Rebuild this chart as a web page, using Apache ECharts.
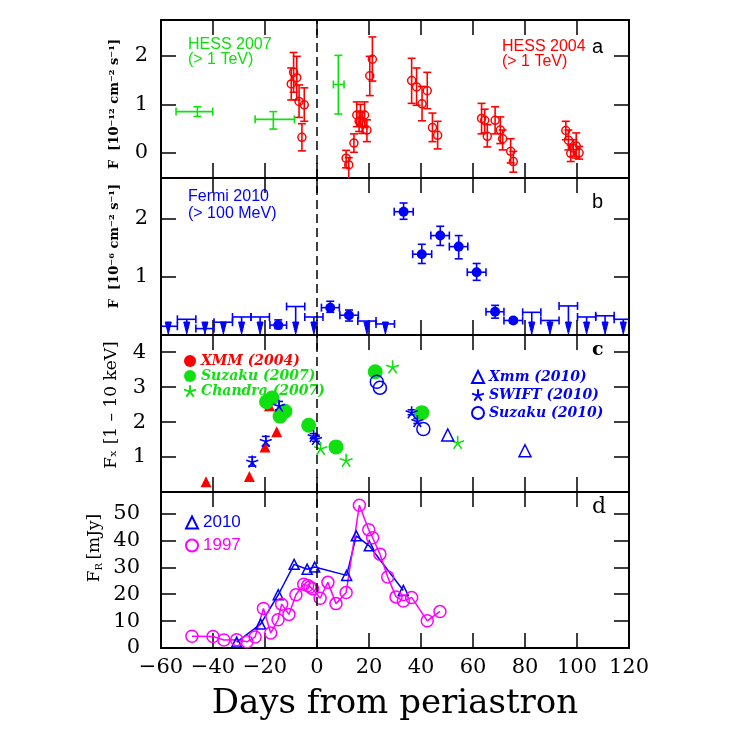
<!DOCTYPE html>
<html><head><meta charset="utf-8">
<script src="https://cdn.jsdelivr.net/npm/echarts@6/dist/echarts.min.js"></script>
<style>html,body{margin:0;padding:0;background:#fff}#c{width:747px;height:738px}</style>
</head><body><div id="c"></div>
<script>
// ---------------- DATA ----------------
// x axis: days from periastron
const dayTicks = [-60, -40, -20, 0, 20, 40, 60, 80, 100, 120];
// Panel a: HESS 2004 [day, flux, fluxLo, fluxHi]
const hess2004 = [
  [-9.9,1.42,1.09,1.75],[-9.0,1.66,1.25,2.07],[-7.8,1.55,1.09,1.99],[-6.9,1.06,0.73,1.40],
  [-5.8,0.32,0.04,0.60],[-4.9,0.99,0.65,1.34],
  [11.2,-0.11,-0.31,0.05],[12.2,-0.25,-0.60,-0.10],[14.2,0.20,0.01,0.39],[15.3,0.78,0.54,1.05],
  [16.2,0.65,0.44,0.85],[16.7,0.78,0.55,1.00],[17.4,0.61,0.40,0.85],[18.3,0.78,0.52,1.05],
  [19.2,0.47,0.23,0.68],[20.3,1.59,1.18,1.99],[21.3,1.93,1.48,2.39],
  [36.4,1.49,1.02,1.95],[38.3,1.36,0.98,1.75],[40.4,1.01,0.66,1.37],[42.4,1.28,0.91,1.66],
  [44.4,0.52,0.23,0.82],[46.4,0.36,0.08,0.65],
  [63.3,0.71,0.39,1.02],[64.5,0.67,0.41,0.90],[65.5,0.34,0.12,0.58],[68.5,0.67,0.39,0.95],
  [70.5,0.47,0.19,0.74],[71.4,0.29,0.06,0.47],[74.5,0.03,-0.21,0.29],[75.5,-0.18,-0.40,0.03],
  [95.7,0.46,0.27,0.65],[96.7,0.26,0.06,0.47],[97.6,-0.01,-0.18,0.16],[98.6,0.10,-0.07,0.27],
  [99.7,0.14,-0.11,0.41],[100.8,0.00,-0.13,0.13]
];
// Panel a: HESS 2007 [day, flux, dayLo, dayHi, fluxLo, fluxHi]
const hess2007 = [
  [-46.0,0.85,-54.2,-40.1,0.75,0.95],
  [-16.8,0.69,-23.8,-8.7,0.49,0.85],
  [8.2,1.41,6.3,10.4,0.80,2.01]
];
// Panel b: Fermi 2010 detections [day, flux, dayLo, dayHi, fluxLo, fluxHi]
const fermiDet = [
  [-14.9,0.17,-18.1,-11.7,0.11,0.26],[5.1,0.47,1.7,8.6,0.39,0.58],[12.3,0.34,8.8,15.9,0.24,0.43],
  [33.3,2.12,29.7,37.0,1.99,2.27],[40.3,1.39,36.8,44.1,1.23,1.56],[47.4,1.71,43.8,50.9,1.54,1.87],
  [54.5,1.52,50.9,58.0,1.31,1.71],[61.4,1.08,57.8,65.0,0.94,1.23],[68.5,0.40,65.0,71.9,0.29,0.51],
  [75.5,0.25,71.9,79.1,0.21,0.29]
];
// Panel b: Fermi 2010 upper limits [day, upperLimit, dayLo, dayHi]
const fermiUL = [
  [-57.2,0.15,-60.8,-53.7],[-50.1,0.27,-53.7,-46.6],[-43.1,0.11,-46.6,-39.6],[-36.0,0.22,-39.6,-32.5],
  [-29.0,0.31,-32.5,-25.4],[-21.9,0.31,-25.4,-18.3],[-8.2,0.49,-11.7,-4.7],[-1.2,0.31,-4.7,2.3],
  [19.2,0.24,15.7,22.7],[26.3,0.19,22.7,29.8],[82.6,0.39,79.1,86.1],[89.6,0.25,86.1,93.1],
  [96.7,0.50,93.1,100.2],[103.7,0.31,100.2,107.2],[110.8,0.33,107.2,114.3],[117.8,0.27,114.3,121.3]
];
// Panel c: X-ray flux [day, flux]
const xmm2004 = [[-42.7,0.29],[-26.0,0.44],[-20.0,1.29],[-18.3,2.47],[-15.5,1.72]];
const suzaku2007 = [[-19.4,2.58],[-17.3,2.69],[-14.2,2.17],[-12.3,2.31],[-3.2,1.91],[7.3,1.29],[22.4,3.44],[40.3,2.27]];
const chandra2007 = [[1.4,1.25],[11.2,0.91],[29.1,3.58],[54.1,1.42]];
const xmm2010 = [[50.3,1.63],[80.0,1.18]];
// SWIFT [day, flux, fluxLo, fluxHi]
const swift2010 = [[-24.9,0.87,0.74,1.00],[-19.7,1.46,1.33,1.59],[-14.6,2.47,2.35,2.59],[-1.3,1.60,1.53,1.67],[-0.4,1.52,1.45,1.59],[36.4,2.28,2.21,2.35],[38.6,2.03,1.96,2.10]];
const suzaku2010 = [[23.0,3.15],[24.2,2.98],[40.9,1.80]];
// Panel d: radio flux [day, mJy]
const radio2010 = [[-30.9,2.2],[-21.7,8.9],[-14.9,19.8],[-8.8,31.1],[-3.8,29.3],[-0.9,30.1],[11.4,27.0],[15.1,41.7],[20.1,38.0],[33.2,21.4]];
const radio1997 = [[-48.1,4.4],[-40.0,4.3],[-35.8,3.0],[-30.9,3.1],[-26.9,2.3],[-23.8,4.1],[-20.6,14.7],[-17.8,5.6],[-15.0,10.5],[-13.6,16.3],[-10.8,12.5],[-8.1,19.8],[-5.1,23.7],[-3.6,23.2],[-2.7,22.7],[-1.7,22.0],[1.2,18.5],[4.2,24.4],[7.3,16.5],[11.2,20.6],[16.3,53.1],[19.9,44.0],[21.4,41.0],[24.2,34.9],[27.2,26.4],[30.4,19.0],[33.2,17.5],[36.4,18.8],[42.4,10.1],[47.3,13.6]];
// y tick values per panel
const yTicksA = [0,1,2], yTicksB = [1,2], yTicksC = [1,2,3,4], yTicksD = [0,10,20,30,40,50];

// ---------------- STYLE ----------------
const RED='#ff0000', GREEN='#10e010', BLUE='#0000ff', MAG='#ff00ff';
const SERIF='DejaVu Serif', SANS='Liberation Sans';
const STAR='path://M0,-10L0,0M0,0L9.51,-3.09M0,0L5.88,8.09M0,0L-5.88,8.09M0,0L-9.51,-3.09';
const PANELS=[[20,158],[178,157],[335,157],[492,156]];
const yRange=[[-0.52,2.74],[0,2.7],[0,4.49],[0,58]];
const yTicks=[yTicksA,yTicksB,yTicksC,yTicksD];
const yLabels=[yTicksA,yTicksB,yTicksC,yTicksD];
const yMargin=[13,13,15,21];

const grid = PANELS.map(([t,h])=>({left:161,width:468,top:t,height:h,containLabel:false}));
const aLine={show:true,onZero:false,lineStyle:{color:'#000',width:2}};
const fmt=v=>v<0?'\u2212'+(-v):String(v);
const xAxis=[], yAxis=[];
for(let i=0;i<4;i++){
  for(const pos of ['bottom','top']){
    const lab = i===3 && pos==='bottom';
    xAxis.push({type:'value',gridIndex:i,position:pos,min:dayTicks[0],max:dayTicks[dayTicks.length-1],interval:20,
      axisLine:aLine,splitLine:{show:false},
      axisTick:{show:true,inside:true,length:15,lineStyle:{color:'#000',width:1.5}},
      axisLabel:{show:lab,formatter:fmt,color:'#000',fontFamily:SERIF,fontSize:21,margin:9},
      name:lab?'Days from periastron':'',nameLocation:'middle',nameGap:39,
      nameTextStyle:{color:'#000',fontFamily:SERIF,fontSize:34}});
  }
  for(const pos of ['left','right']){
    yAxis.push({type:'value',gridIndex:i,position:pos,min:yRange[i][0],max:yRange[i][1],
      axisLine:aLine,splitLine:{show:false},
      axisTick:{show:true,inside:true,length:15,customValues:yTicks[i],lineStyle:{color:'#000',width:1.5}},
      axisLabel:{show:pos==='left',customValues:yLabels[i],color:'#000',fontFamily:SERIF,fontSize:21,margin:yMargin[i]}});
  }
}

function seg(x1,y1,x2,y2,st){return {type:'line',shape:{x1:x1,y1:y1,x2:x2,y2:y2},style:st};}
function errRender(mode,color,cap){
  return function(params,api){
    const st={stroke:color,lineWidth:1.6,fill:null};
    const x=api.value(0), y=api.value(1);
    const c=api.coord([x,y]); const ch=[];
    if(mode==='y'){
      const lo=api.coord([x,api.value(2)]), hi=api.coord([x,api.value(3)]);
      ch.push(seg(c[0],lo[1],c[0],hi[1],st),seg(c[0]-cap,lo[1],c[0]+cap,lo[1],st),seg(c[0]-cap,hi[1],c[0]+cap,hi[1],st));
    } else if(mode==='xy'){
      const xl=api.coord([api.value(2),y]), xh=api.coord([api.value(3),y]);
      const lo=api.coord([x,api.value(4)]), hi=api.coord([x,api.value(5)]);
      ch.push(seg(xl[0],c[1],xh[0],c[1],st),seg(xl[0],c[1]-cap,xl[0],c[1]+cap,st),seg(xh[0],c[1]-cap,xh[0],c[1]+cap,st));
      ch.push(seg(c[0],lo[1],c[0],hi[1],st),seg(c[0]-cap,lo[1],c[0]+cap,lo[1],st),seg(c[0]-cap,hi[1],c[0]+cap,hi[1],st));
    } else {
      const xl=api.coord([api.value(2),y]), xh=api.coord([api.value(3),y]);
      const yb=api.coord([x,0])[1]-1;
      ch.push(seg(xl[0],c[1],xh[0],c[1],st),seg(xl[0],c[1]-cap,xl[0],c[1]+cap,st),seg(xh[0],c[1]-cap,xh[0],c[1]+cap,st));
      ch.push(seg(c[0],c[1],c[0],yb-6,st));
      ch.push({type:'polygon',shape:{points:[[c[0]-3,yb-12],[c[0]+3,yb-12],[c[0],yb]]},style:{fill:color,stroke:color,lineWidth:1}});
    }
    return {type:'group',children:ch};
  };
}
const zeroLine={silent:true,symbol:['none','none'],label:{show:false},
  lineStyle:{color:'#000',type:[9,5],width:1.5},data:[{xAxis:0}]};
function ax(i){return {xAxisIndex:2*i,yAxisIndex:2*i};}

const series=[
  // panel a
  Object.assign({type:'custom',name:'HESS 2004 err',renderItem:errRender('y',RED,4),data:hess2004,encode:{x:0,y:1},clip:true,z:2},ax(0)),
  Object.assign({type:'scatter',name:'HESS 2004',data:hess2004.map(d=>[d[0],d[1]]),symbol:'circle',symbolSize:8,
    itemStyle:{color:'rgba(0,0,0,0)',borderColor:RED,borderWidth:1.5,opacity:1},z:3,markLine:zeroLine},ax(0)),
  Object.assign({type:'custom',name:'HESS 2007',renderItem:errRender('xy',GREEN,4),data:hess2007,encode:{x:0,y:1},clip:true,z:2},ax(0)),
  // panel b
  Object.assign({type:'custom',name:'Fermi UL',renderItem:errRender('ul',BLUE,4),data:fermiUL,encode:{x:0,y:1},clip:true,z:2},ax(1)),
  Object.assign({type:'custom',name:'Fermi err',renderItem:errRender('xy',BLUE,4),data:fermiDet,encode:{x:0,y:1},clip:true,z:2},ax(1)),
  Object.assign({type:'scatter',name:'Fermi 2010',data:fermiDet.map(d=>[d[0],d[1]]),symbol:'circle',symbolSize:10,
    itemStyle:{color:BLUE,opacity:1},z:3,markLine:zeroLine},ax(1)),
  // panel c
  Object.assign({type:'scatter',name:'XMM (2004)',data:xmm2004,symbol:'triangle',symbolSize:11,itemStyle:{color:RED,opacity:1},z:3,markLine:zeroLine},ax(2)),
  Object.assign({type:'scatter',name:'Suzaku (2007)',data:suzaku2007,symbol:'circle',symbolSize:15,itemStyle:{color:GREEN,opacity:1},z:3},ax(2)),
  Object.assign({type:'scatter',name:'Chandra (2007)',data:chandra2007,symbol:STAR,symbolSize:13,
    itemStyle:{color:'rgba(0,0,0,0)',borderColor:GREEN,borderWidth:1.6,opacity:1},z:3},ax(2)),
  Object.assign({type:'scatter',name:'Xmm (2010)',data:xmm2010,symbol:'triangle',symbolSize:12,
    itemStyle:{color:'rgba(0,0,0,0)',borderColor:BLUE,borderWidth:1.5,opacity:1},z:3},ax(2)),
  Object.assign({type:'custom',name:'SWIFT err',renderItem:errRender('y',BLUE,4),data:swift2010,encode:{x:0,y:1},clip:true,z:2},ax(2)),
  Object.assign({type:'scatter',name:'SWIFT (2010)',data:swift2010.map(d=>[d[0],d[1]]),symbol:STAR,symbolSize:12,
    itemStyle:{color:'rgba(0,0,0,0)',borderColor:BLUE,borderWidth:1.6,opacity:1},z:3},ax(2)),
  Object.assign({type:'scatter',name:'Suzaku (2010)',data:suzaku2010,symbol:'circle',symbolSize:13,
    itemStyle:{color:'rgba(0,0,0,0)',borderColor:BLUE,borderWidth:1.5,opacity:1},z:3},ax(2)),
  // panel d
  Object.assign({type:'line',name:'2010',data:radio2010,symbol:'triangle',symbolSize:10,
    lineStyle:{color:BLUE,width:1.5},itemStyle:{color:'rgba(0,0,0,0)',borderColor:BLUE,borderWidth:1.5},z:3,markLine:zeroLine},ax(3)),
  Object.assign({type:'line',name:'1997',data:radio1997,symbol:'circle',symbolSize:12,
    lineStyle:{color:MAG,width:1.5},itemStyle:{color:'rgba(0,0,0,0)',borderColor:MAG,borderWidth:1.5},z:3},ax(3))
];

const legTxt={fontFamily:SERIF,fontStyle:'italic',fontWeight:'bold',fontSize:14,lineHeight:13};
const legend=[
  {left:178,top:349,orient:'vertical',itemWidth:12,itemHeight:12,itemGap:1,selectedMode:false,textStyle:legTxt,
   data:[{name:'XMM (2004)',icon:'circle',textStyle:{color:RED}},{name:'Suzaku (2007)',icon:'circle',textStyle:{color:GREEN}},
         {name:'Chandra (2007)',icon:STAR,textStyle:{color:GREEN}}]},
  {left:466,top:365,orient:'vertical',itemWidth:12,itemHeight:12,itemGap:4,selectedMode:false,textStyle:legTxt,
   data:[{name:'Xmm (2010)',icon:'triangle',textStyle:{color:BLUE}},{name:'SWIFT (2010)',icon:STAR,textStyle:{color:BLUE}},
         {name:'Suzaku (2010)',icon:'circle',textStyle:{color:BLUE}}]},
  {left:180,top:508,orient:'vertical',itemWidth:12,itemHeight:12,itemGap:4,selectedMode:false,
   textStyle:{fontFamily:SANS,fontSize:17,lineHeight:19},lineStyle:{width:0,opacity:0},
   data:[{name:'2010',icon:'triangle',textStyle:{color:BLUE}},{name:'1997',icon:'circle',textStyle:{color:MAG}}]}
];

function txt(x,y,t,font,color,align,rot){return {type:'text',x:x,y:y,rotation:rot||0,silent:true,
  style:{text:t,font:font,fill:color,align:align||'left',verticalAlign:'middle'}};}
const graphic=[
  txt(188,45,'HESS 2007','16px '+SANS,GREEN),
  txt(188,60,'(> 1 TeV)','16px '+SANS,GREEN),
  txt(502,47,'HESS 2004','16px '+SANS,RED),
  txt(502,62,'(> 1 TeV)','16px '+SANS,RED),
  txt(592,47,'a','20px '+SANS,'#000'),
  txt(188,197,'Fermi 2010','16px '+SANS,BLUE),
  txt(188,214,'(> 100 MeV)','16px '+SANS,BLUE),
  txt(592,202,'b','20px '+SANS,'#000'),
  txt(592,350,'c','bold 19px '+SERIF,'#000'),
  txt(592,507,'d','22px '+SERIF,'#000'),
  txt(115,104,'F  [10\u207B\u00B9\u00B2 cm\u207B\u00B2 s\u207B\u00B9]','bold 13px '+SERIF,'#000','center',Math.PI/2),
  txt(115,246,'F  [10\u207B\u2076 cm\u207B\u00B2 s\u207B\u00B9]','bold 13px '+SERIF,'#000','center',Math.PI/2),
  txt(112,405,'F\u2093 [1 \u2013 10 keV]','17px '+SERIF,'#000','center',Math.PI/2),
  {type:'text',x:95,y:548,rotation:Math.PI/2,silent:true,
   style:{text:'{a|F}{b|R} {a|[mJy]}',align:'center',verticalAlign:'middle',
     rich:{a:{font:'17px '+SERIF,fill:'#000'},b:{font:'10px '+SERIF,fill:'#000',verticalAlign:'bottom',padding:[8,0,0,0]}}}}
];

const chart=echarts.init(document.getElementById('c'),null,{renderer:'canvas'});
chart.setOption({animation:false,backgroundColor:'#fff',grid,xAxis,yAxis,series,legend,graphic});
</script></body></html>
